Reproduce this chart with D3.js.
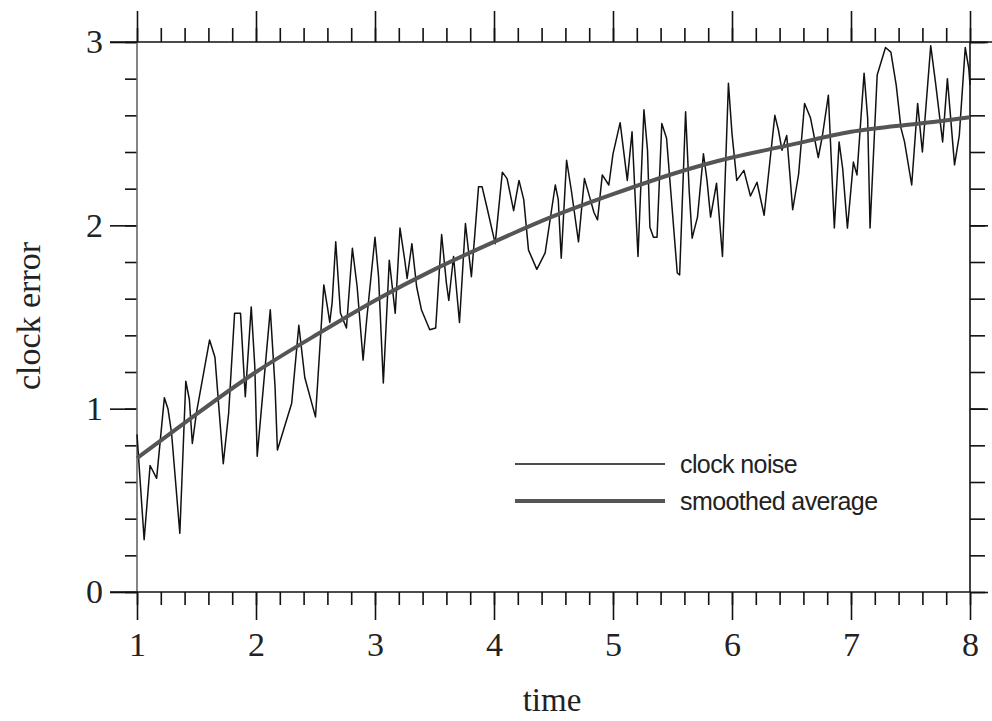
<!DOCTYPE html>
<html>
<head>
<meta charset="utf-8">
<script src="https://cdn.jsdelivr.net/npm/d3@7"></script>
<style>
  html, body { margin: 0; padding: 0; background: #fff; }
  svg { display: block; }
</style>
</head>
<body>
<svg id="chart" width="992" height="721"></svg>
<script>
// ---- data ----
const xTicks = [1, 2, 3, 4, 5, 6, 7, 8];
const yTicks = [0, 1, 2, 3];
const xLabel = "time";
const yLabel = "clock error";
const seriesNames = ["clock noise", "smoothed average"];

// clock noise: [time, error]
const noisePoints = [
  [1.00,0.86],[1.06,0.285],[1.11,0.69],[1.165,0.62],[1.23,1.06],[1.26,1.00],[1.29,0.87],[1.36,0.32],
  [1.41,1.15],[1.44,1.05],[1.465,0.81],[1.50,0.98],[1.61,1.375],[1.655,1.28],[1.725,0.70],[1.77,0.975],
  [1.82,1.52],[1.87,1.52],[1.91,1.065],[1.96,1.555],[1.99,1.23],[2.01,0.74],[2.12,1.54],[2.16,1.12],
  [2.18,0.775],[2.30,1.03],[2.36,1.455],[2.41,1.17],[2.50,0.955],[2.57,1.675],[2.60,1.555],[2.62,1.47],
  [2.64,1.58],[2.67,1.91],[2.71,1.52],[2.76,1.44],[2.81,1.875],[2.85,1.665],[2.90,1.265],[2.93,1.485],
  [3.00,1.935],[3.03,1.72],[3.07,1.14],[3.12,1.81],[3.17,1.52],[3.21,1.985],[3.25,1.81],[3.27,1.71],
  [3.31,1.90],[3.35,1.665],[3.39,1.54],[3.46,1.43],[3.51,1.44],[3.56,1.95],[3.60,1.685],[3.62,1.59],
  [3.66,1.83],[3.71,1.47],[3.76,2.01],[3.81,1.72],[3.84,1.96],[3.87,2.21],[3.90,2.21],[3.94,2.10],
  [4.01,1.90],[4.07,2.29],[4.11,2.255],[4.165,2.08],[4.21,2.245],[4.25,2.14],[4.29,1.865],[4.36,1.76],
  [4.43,1.85],[4.515,2.22],[4.54,2.14],[4.565,1.82],[4.61,2.355],[4.65,2.19],[4.71,1.91],[4.76,2.255],
  [4.81,2.14],[4.84,2.07],[4.87,2.03],[4.91,2.275],[4.965,2.22],[5.00,2.39],[5.06,2.56],[5.12,2.245],
  [5.16,2.51],[5.21,1.83],[5.26,2.63],[5.29,2.41],[5.31,1.99],[5.34,1.935],[5.37,1.935],[5.41,2.555],
  [5.45,2.475],[5.54,1.74],[5.56,1.73],[5.61,2.62],[5.64,2.19],[5.665,1.93],[5.71,2.045],[5.76,2.39],
  [5.79,2.245],[5.82,2.045],[5.87,2.23],[5.92,1.83],[5.97,2.775],[6.00,2.50],[6.04,2.245],[6.10,2.30],
  [6.155,2.16],[6.21,2.235],[6.27,2.055],[6.36,2.60],[6.39,2.52],[6.42,2.41],[6.46,2.49],[6.51,2.085],
  [6.56,2.28],[6.61,2.665],[6.66,2.585],[6.725,2.37],[6.76,2.49],[6.81,2.71],[6.86,1.985],[6.90,2.455],
  [6.93,2.31],[6.97,1.985],[7.02,2.345],[7.05,2.275],[7.11,2.83],[7.14,2.585],[7.16,1.985],[7.22,2.82],
  [7.29,2.97],[7.335,2.945],[7.38,2.765],[7.42,2.53],[7.45,2.455],[7.51,2.22],[7.56,2.665],[7.60,2.40],
  [7.67,2.98],[7.71,2.78],[7.77,2.455],[7.81,2.80],[7.87,2.33],[7.91,2.49],[7.96,2.97],[7.99,2.855],
  [8.00,2.765]
];

// smoothed average: [time, error]
const smoothPoints = [
  [1.0,0.73],[1.5,0.97],[2.0,1.20],[2.5,1.40],[3.0,1.59],[3.5,1.76],[4.0,1.91],[4.5,2.05],
  [5.0,2.17],[5.5,2.28],[6.0,2.37],[6.5,2.44],[7.0,2.51],[7.5,2.55],[8.0,2.59]
];

// ---- chart ----
const svg = d3.select("#chart");
const L = 137, R = 970, T = 42, B = 592;
const x = d3.scaleLinear().domain([1, 8]).range([L, R]);
const y = d3.scaleLinear().domain([0, 3]).range([B, T]);

const minorX = d3.range(1, 8.0001, 0.2).map(v => +v.toFixed(2));
const minorY = d3.range(0, 3.0001, 0.2).map(v => +v.toFixed(2));

const serif = "'Liberation Serif', 'Times New Roman', serif";
const sans = "'Liberation Sans', Arial, sans-serif";

function styleAxis(g) {
  g.select(".domain").remove();
  g.selectAll(".tick line").attr("stroke", "#111").attr("stroke-width", 1.6);
  g.selectAll("text").attr("font-family", serif).attr("font-size", 34).attr("fill", "#222");
}

// minor ticks
svg.append("g").attr("transform", `translate(0,${B})`)
  .call(d3.axisBottom(x).tickValues(minorX).tickSize(13).tickFormat(""))
  .call(styleAxis);
svg.append("g").attr("transform", `translate(0,${T})`)
  .call(d3.axisTop(x).tickValues(minorX).tickSize(14).tickFormat(""))
  .call(styleAxis);
svg.append("g").attr("transform", `translate(${L},0)`)
  .call(d3.axisLeft(y).tickValues(minorY).tickSize(12).tickFormat(""))
  .call(styleAxis);
svg.append("g").attr("transform", `translate(${R},0)`)
  .call(d3.axisRight(y).tickValues(minorY).tickSize(15).tickFormat(""))
  .call(styleAxis);

// major ticks + labels
svg.append("g").attr("transform", `translate(0,${B})`)
  .call(d3.axisBottom(x).tickValues(xTicks).tickSize(28).tickPadding(12).tickFormat(d3.format("d")))
  .call(styleAxis);
svg.append("g").attr("transform", `translate(0,${T})`)
  .call(d3.axisTop(x).tickValues(xTicks).tickSize(31).tickFormat(""))
  .call(styleAxis);
svg.append("g").attr("transform", `translate(${L},0)`)
  .call(d3.axisLeft(y).tickValues(yTicks).tickSize(27).tickPadding(7).tickFormat(d3.format("d")))
  .call(styleAxis);
svg.append("g").attr("transform", `translate(${R},0)`)
  .call(d3.axisRight(y).tickValues(yTicks).tickSize(18).tickFormat(""))
  .call(styleAxis);

// frame
svg.append("line").attr("x1", L).attr("x2", L).attr("y1", T).attr("y2", B)
  .attr("stroke", "#666").attr("stroke-width", 1.6);
svg.append("line").attr("x1", L - 27).attr("x2", R + 22).attr("y1", T).attr("y2", T)
  .attr("stroke", "#111").attr("stroke-width", 1.6);
svg.append("line").attr("x1", L - 27).attr("x2", R).attr("y1", B).attr("y2", B)
  .attr("stroke", "#111").attr("stroke-width", 1.6);
svg.append("line").attr("x1", R).attr("x2", R).attr("y1", T).attr("y2", B)
  .attr("stroke", "#111").attr("stroke-width", 1.6);

// lines
const line = d3.line().x(d => x(d[0])).y(d => y(d[1]));
svg.append("path").datum(noisePoints)
  .attr("d", line.curve(d3.curveLinear))
  .attr("fill", "none").attr("stroke", "#111").attr("stroke-width", 1.5)
  .attr("stroke-linejoin", "round");
svg.append("path").datum(smoothPoints)
  .attr("d", d3.line().x(d => x(d[0])).y(d => y(d[1])).curve(d3.curveNatural))
  .attr("fill", "none").attr("stroke", "#555").attr("stroke-width", 4);

// axis titles
svg.append("text").attr("x", 552).attr("y", 711).attr("text-anchor", "middle")
  .attr("font-family", serif).attr("font-size", 33).attr("fill", "#222").text(xLabel);
svg.append("text").attr("transform", "translate(40,316) rotate(-90)").attr("text-anchor", "middle")
  .attr("font-family", serif).attr("font-size", 34).attr("fill", "#222").text(yLabel);

// legend
const legend = svg.append("g");
const legendY = [464, 501];
legend.append("line").attr("x1", 515).attr("x2", 665).attr("y1", legendY[0]).attr("y2", legendY[0])
  .attr("stroke", "#111").attr("stroke-width", 1.3);
legend.append("line").attr("x1", 515).attr("x2", 665).attr("y1", legendY[1]).attr("y2", legendY[1])
  .attr("stroke", "#555").attr("stroke-width", 4);
legend.selectAll("text.leg").data(seriesNames).join("text")
  .attr("class", "leg")
  .attr("x", 680).attr("y", (d, i) => legendY[i] + 9)
  .attr("font-family", sans).attr("font-size", 25).attr("letter-spacing", -0.6)
  .attr("fill", "#222").text(d => d);
</script>
</body>
</html>
